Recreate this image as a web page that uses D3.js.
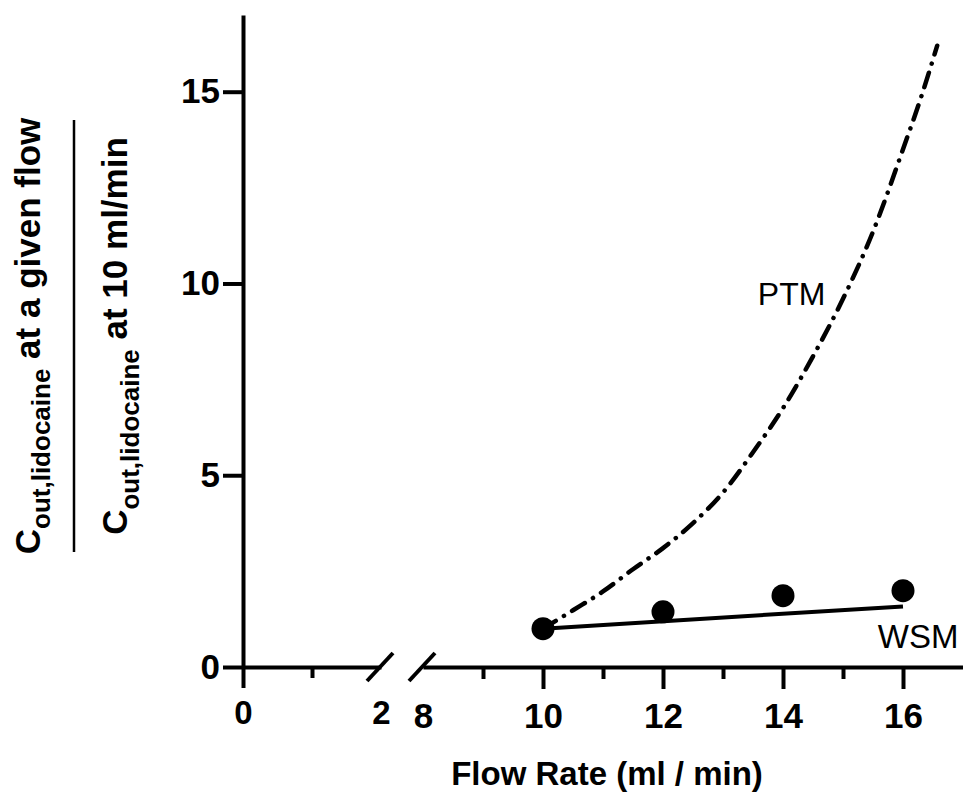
<!DOCTYPE html>
<html>
<head>
<meta charset="utf-8">
<script src="https://cdn.jsdelivr.net/npm/d3@7"></script>
<style>
  html, body { margin: 0; padding: 0; background: #fff; }
  svg { display: block; font-family: "Liberation Sans", Arial, Helvetica, sans-serif; }
</style>
</head>
<body>
<div id="chart"></div>
<script>
// measured points (WSM data)
const flowPoints = [10, 12, 14, 16];
const ratioPoints = [1.0, 1.44, 1.86, 1.99];

// WSM fit line
const wsmFlow = [10, 16];
const wsmRatio = [1.0, 1.58];

// PTM prediction (dash-dot curve)
const ptmFlow = [10, 10.5, 11, 11.5, 12, 12.5, 13, 13.5, 14, 14.5, 15, 15.5, 16, 16.3, 16.57];
const ptmRatio = [1.0, 1.48, 1.97, 2.55, 3.1, 3.75, 4.55, 5.6, 6.75, 8.1, 9.6, 11.35, 13.5, 14.85, 16.2];

// axis ticks
const yTicks = [0, 5, 10, 15];
const xLeftTicks = [0, 2];
const xLeftMinor = [1];
const xRightTicks = [8, 10, 12, 14, 16];
const xRightMinor = [9, 11, 13, 15];

const width = 963;
const height = 793;

const svg = d3.select("#chart")
  .append("svg")
  .attr("width", width)
  .attr("height", height);

const y = d3.scaleLinear().domain([0, 17]).range([667, 15]);
// broken x axis: two segments
const xL = d3.scaleLinear().domain([0, 2]).range([243, 381]);
const xR = d3.scaleLinear().domain([8, 17]).range([423, 963]);
const fmt = d3.format("d");

function styleAxis(g) {
  g.select(".domain").attr("stroke", "#000").attr("stroke-width", 4);
  g.selectAll(".tick line").attr("stroke", "#000").attr("stroke-width", 4);
  g.selectAll(".tick text").attr("fill", "#000").attr("font-weight", "bold");
}

// --- y axis ---
svg.append("g")
  .attr("transform", `translate(${xL(0)},0)`)
  .call(d3.axisLeft(y).tickValues(yTicks).tickFormat(fmt).tickSize(20).tickSizeOuter(0).tickPadding(3))
  .call(styleAxis)
  .call(g => g.selectAll(".tick text").attr("font-size", 35));

// --- x axis, left segment ---
const gxL = svg.append("g")
  .attr("transform", `translate(0,${y(0)})`)
  .call(d3.axisBottom(xL).tickValues(xLeftTicks).tickFormat(fmt).tickSize(21).tickSizeOuter(0).tickPadding(13))
  .call(styleAxis)
  .call(g => g.selectAll(".tick text").attr("font-size", 33));
gxL.selectAll(".tick").filter(d => d === 2).select("line").remove();

svg.append("g")
  .attr("transform", `translate(0,${y(0)})`)
  .call(d3.axisBottom(xL).tickValues(xLeftMinor).tickSize(11).tickFormat(""))
  .call(styleAxis)
  .call(g => g.select(".domain").remove());

// --- x axis, right segment ---
const gxR = svg.append("g")
  .attr("transform", `translate(0,${y(0)})`)
  .call(d3.axisBottom(xR).tickValues(xRightTicks).tickFormat(fmt).tickSize(22).tickSizeOuter(0).tickPadding(14))
  .call(styleAxis)
  .call(g => g.selectAll(".tick text").attr("font-size", 35));
gxR.selectAll(".tick").filter(d => d === 8).select("line").remove();

svg.append("g")
  .attr("transform", `translate(0,${y(0)})`)
  .call(d3.axisBottom(xR).tickValues(xRightMinor).tickSize(12).tickFormat(""))
  .call(styleAxis)
  .call(g => g.select(".domain").remove());

// break marks
[xL(2) - 1, xR(8) - 1].forEach(cx => {
  svg.append("line")
    .attr("x1", cx - 13).attr("y1", y(0) + 14)
    .attr("x2", cx + 13).attr("y2", y(0) - 14)
    .attr("stroke", "#000")
    .attr("stroke-width", 4);
});

// --- PTM curve ---
const ptmLine = d3.line()
  .x((d, i) => xR(ptmFlow[i]))
  .y(d => y(d))
  .curve(d3.curveMonotoneX);

svg.append("path")
  .attr("d", ptmLine(ptmRatio))
  .attr("fill", "none")
  .attr("stroke", "#000")
  .attr("stroke-width", 4.5)
  .attr("stroke-linecap", "round")
  .attr("stroke-dasharray", "15,9.5,0.1,9.5");

// --- WSM line ---
const wsmLine = d3.line()
  .x((d, i) => xR(wsmFlow[i]))
  .y(d => y(d));

svg.append("path")
  .attr("d", wsmLine(wsmRatio))
  .attr("fill", "none")
  .attr("stroke", "#000")
  .attr("stroke-width", 4);

// data points
svg.append("g")
  .selectAll("circle")
  .data(ratioPoints)
  .join("circle")
  .attr("cx", (d, i) => xR(flowPoints[i]))
  .attr("cy", d => y(d))
  .attr("r", 11.5)
  .attr("fill", "#000");

// series labels
svg.append("text")
  .attr("x", xR(13.58))
  .attr("y", y(9.43))
  .attr("font-size", 32)
  .text("PTM");

svg.append("text")
  .attr("x", xR(15.58))
  .attr("y", y(0.49))
  .attr("font-size", 33)
  .text("WSM");

// x axis title
svg.append("text")
  .attr("x", 607)
  .attr("y", 785)
  .attr("text-anchor", "middle")
  .attr("font-size", 33)
  .attr("font-weight", "bold")
  .text("Flow Rate (ml / min)");

// y axis title as a fraction
function ratioLabel(xPos, tail, subShift) {
  const t = svg.append("text")
    .attr("transform", `translate(${xPos},336) rotate(-90)`)
    .attr("text-anchor", "middle")
    .attr("font-size", 35)
    .attr("font-weight", "bold");
  t.append("tspan").text("C");
  t.append("tspan").attr("font-size", 26).attr("dy", subShift).text("out,lidocaine");
  t.append("tspan").attr("dy", -subShift).text(tail);
}
ratioLabel(40, " at a given flow", 10);
ratioLabel(127, " at 10 ml/min", 12);

svg.append("line")
  .attr("x1", 74).attr("x2", 74)
  .attr("y1", 120).attr("y2", 552)
  .attr("stroke", "#000")
  .attr("stroke-width", 2.5);
</script>
</body>
</html>
